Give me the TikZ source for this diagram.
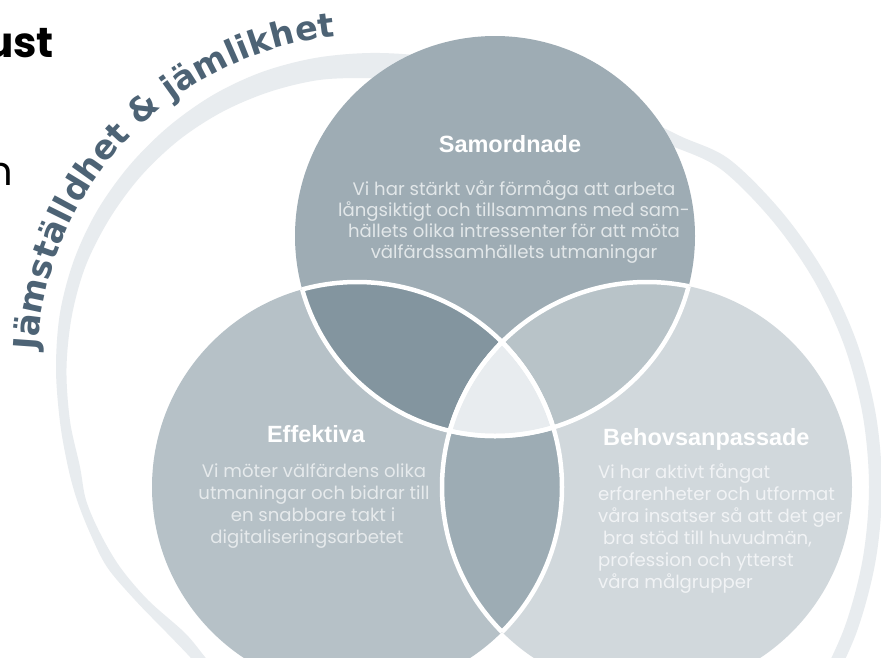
\documentclass[tikz,border=0pt]{standalone}
\usepackage{fontspec}
\setmainfont{Liberation Sans}
\newfontfamily\headfont{Liberation Sans}
\newfontfamily\bodyfont{Poppins}
\newfontfamily\arcfont{DejaVu Sans}
\usetikzlibrary{decorations.text}
\definecolor{topc}{HTML}{9EACB4}
\definecolor{leftc}{HTML}{B6C1C7}
\definecolor{rightc}{HTML}{D1D8DC}
\definecolor{tlc}{HTML}{83959F}
\definecolor{trc}{HTML}{B8C3C8}
\definecolor{lrc}{HTML}{9DACB4}
\definecolor{cenc}{HTML}{E8ECEF}
\definecolor{ringc}{HTML}{E8ECEF}
\definecolor{arctext}{HTML}{4D6375}
\definecolor{bodyTc}{HTML}{E2E7E9}
\definecolor{bodyLc}{HTML}{E6EAEC}
\definecolor{bodyRc}{HTML}{F1F3F5}
\newcommand\arcstyle{\arcfont\bfseries\fontsize{33.5}{33.5}\selectfont}
\begin{document}
\begin{tikzpicture}[x=1pt,y=-1pt,
  head/.style={font=\headfont\bfseries\fontsize{23.5}{28}\selectfont, text=white, inner sep=0pt},
  bodytxt/.style={font=\bodyfont\fontsize{18.1}{21}\selectfont, inner sep=0pt},
  bodyT/.style={bodytxt, text=bodyTc, anchor=base},
  bodyL/.style={bodytxt, text=bodyLc, anchor=base},
  bodyR/.style={bodytxt, text=bodyRc, anchor=base west},
  inner/.style={white, line width=4.5pt}]
\useasboundingbox (0,0) rectangle (881,657);
\clip (0,0) rectangle (881,657);
\fill[white] (0,0) rectangle (881,657);

% outer swoosh ring
\fill[ringc] plot[smooth, tension=0.55] coordinates {(205,675) (190,657) (167,633) (135,600) (107,567) (90,533) (77,500) (68,467) (60,422) (56,368) (60,313) (74,260) (97,211) (129,166) (168,127) (213,95) (262,72) (315,58) (370,53) (425,56) (490,66) (560,84) (625,109) (680,136) (729.1,159.1) (781.9,211.9) (824.7,273) (856.2,340.6) (875.5,412.7) (882,487) (875.5,561.3) (856.2,633.4) (824.7,701)}
  -- plot[smooth, tension=0.55] coordinates {(813.4,694.5) (844,628.9) (862.7,559.1) (869,487) (862.7,414.9) (844,345) (813.4,279.5) (771.9,220.2) (720.8,169.1) (672,146) (620,126) (560,106) (490,90) (420,80) (370,78) (319,80) (269,92) (222,112) (179,140) (141,176) (110,218) (86,265) (72,315) (66.5,368) (70,421) (80,467) (86,500) (100,533) (120,567) (148,600) (185,633) (205,657) (218,672)} -- cycle;

% curved title
\coordinate (arcC) at (370,368);
\path[decorate, decoration={text along path, text={|\arcstyle|Jämställdhet {\&} jämlikhet}, text align=fit to path, text color=arctext}]
  (arcC) ++(177:333pt) arc[start angle=177, end angle=96, radius=333pt];

% circles
\coordinate (T) at (495,236);
\coordinate (L) at (357,487);
\coordinate (R) at (647,487);
\fill[topc] (T) circle[radius=200pt];
\fill[leftc] (L) circle[radius=205pt];
\fill[rightc] (R) circle[radius=205pt];
\begin{scope}\clip (T) circle[radius=200pt]; \fill[tlc] (L) circle[radius=205pt]; \end{scope}
\begin{scope}\clip (T) circle[radius=200pt]; \fill[trc] (R) circle[radius=205pt]; \end{scope}
\begin{scope}\clip (L) circle[radius=205pt]; \fill[lrc] (R) circle[radius=205pt]; \end{scope}
\begin{scope}\clip (T) circle[radius=200pt]; \clip (L) circle[radius=205pt]; \fill[cenc] (R) circle[radius=205pt]; \end{scope}
% white separating lines
\begin{scope}\clip (L) circle[radius=205pt]; \draw[inner] (T) circle[radius=200pt]; \draw[inner] (R) circle[radius=205pt]; \end{scope}
\begin{scope}\clip (R) circle[radius=205pt]; \draw[inner] (T) circle[radius=200pt]; \draw[inner] (L) circle[radius=205pt]; \end{scope}
\begin{scope}\clip (T) circle[radius=200pt]; \draw[inner] (L) circle[radius=205pt]; \draw[inner] (R) circle[radius=205pt]; \end{scope}

% cut-off heading fragments at left
\node[anchor=base east, font=\bodyfont\bfseries\fontsize{42}{42}\selectfont, inner sep=0pt] (ust) at (54,57) {ust};
\node[anchor=base east, font=\bodyfont\fontsize{40}{40}\selectfont, inner sep=0pt] (nfrag) at (13,185) {n};

% Samordnade
\node[head, anchor=base] (samH) at (510,152) {Samordnade};
\node[bodyT] (sam1) at (514,195) {Vi har stärkt vår förmåga att arbeta};
\node[bodyT] (sam2) at (514,216) {långsiktigt och tillsammans med sam-};
\node[bodyT] (sam3) at (514,237) {hällets olika intressenter för att möta};
\node[bodyT] (sam4) at (514,258) {välfärdssamhällets utmaningar};

% Effektiva
\node[head, anchor=base] (effH) at (316,442) {Effektiva};
\node[bodyL] (eff1) at (314,477) {Vi möter välfärdens olika};
\node[bodyL] (eff2) at (314,499) {utmaningar och bidrar till};
\node[bodyL] (eff3) at (313,521) {en snabbare takt i};
\node[bodyL] (eff4) at (307,543) {digitaliseringsarbetet};

% Behovsanpassade
\node[head, anchor=base west] (behH) at (603,445) {Behovsanpassade};
\node[bodyR] (beh1) at (598,478) {Vi har aktivt fångat};
\node[bodyR] (beh2) at (598,500) {erfarenheter och utformat};
\node[bodyR] (beh3) at (598,522) {våra insatser så att det ger};
\node[bodyR] (beh4) at (603,544) {bra stöd till huvudmän,};
\node[bodyR] (beh5) at (598,566) {profession och ytterst};
\node[bodyR] (beh6) at (598,588) {våra målgrupper};
\end{tikzpicture}
\end{document}
